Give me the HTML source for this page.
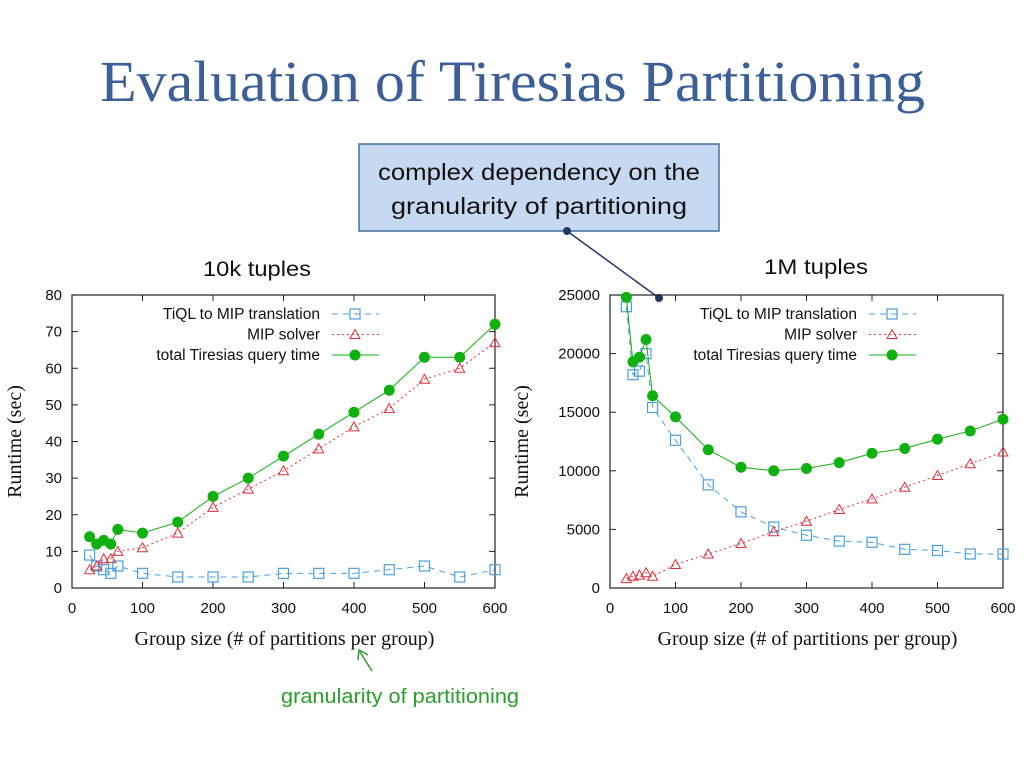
<!DOCTYPE html>
<html><head><meta charset="utf-8"><style>
body{margin:0;background:#fff;}
svg{display:block;}
text{font-family:"Liberation Sans",sans-serif;}
text.serif{font-family:"Liberation Serif",serif;}
</style></head><body>
<svg id="s" width="1024" height="768" viewBox="0 0 1024 768">
<text class="serif" x="100" y="101" font-size="58" fill="#3c5f98" textLength="825" lengthAdjust="spacingAndGlyphs">Evaluation of Tiresias Partitioning</text>
<rect x="359" y="144" width="360" height="87" fill="#c6d9f1" stroke="#41719c" stroke-width="1.5"/>
<text x="539" y="180" font-size="23" text-anchor="middle" fill="#111" textLength="322" lengthAdjust="spacingAndGlyphs">complex dependency on the</text>
<text x="539" y="214" font-size="23" text-anchor="middle" fill="#111" textLength="296" lengthAdjust="spacingAndGlyphs">granularity of partitioning</text>
<line x1="567" y1="231" x2="659" y2="298" stroke="#1f3864" stroke-width="1.5"/>
<circle cx="567" cy="231" r="4" fill="#1f3864"/>
<circle cx="659" cy="298" r="4" fill="#1f3864"/>
<text x="257" y="276" font-size="21" text-anchor="middle" fill="#111" textLength="108" lengthAdjust="spacingAndGlyphs">10k tuples</text>
<text x="816" y="274" font-size="21" text-anchor="middle" fill="#111" textLength="104" lengthAdjust="spacingAndGlyphs">1M tuples</text>
<line x1="372" y1="671" x2="360" y2="652" stroke="#2a9d2a" stroke-width="1.5"/>
<polyline points="358,660 359,650 368,655" fill="none" stroke="#2a9d2a" stroke-width="1.5"/>
<text x="400" y="703" font-size="20" text-anchor="middle" fill="#2a9d2a" textLength="238" lengthAdjust="spacingAndGlyphs">granularity of partitioning</text>
<g id="charts"></g>
</svg>
<script>
const xs = [25,35,45,55,65,100,150,200,250,300,350,400,450,500,550,600];
const xTicks = [0,100,200,300,400,500,600];
const leftYTicks = [0,10,20,30,40,50,60,70,80];
const leftTiql = [9,6,5,4,6,4,3,3,3,4,4,4,5,6,3,5];
const leftMip = [5,6,8,8,10,11,15,22,27,32,38,44,49,57,60,67];
const leftTotal = [14,12,13,12,16,15,18,25,30,36,42,48,54,63,63,72];
const rightYTicks = [0,5000,10000,15000,20000,25000];
const rightTiql = [24000,18200,18500,20000,15400,12600,8800,6500,5200,4500,4000,3900,3300,3200,2900,2900];
const rightMip = [800,1000,1100,1300,1000,2000,2900,3800,4800,5700,6700,7600,8600,9600,10600,11600];
const rightTotal = [24800,19300,19700,21200,16400,14600,11800,10300,10000,10200,10700,11500,11900,12700,13400,14400];
const legendLabels = ["TiQL to MIP translation","MIP solver","total Tiresias query time"];

const NS="http://www.w3.org/2000/svg";
const root=document.getElementById('charts');
function mk(tag,attrs,parent){const e=document.createElementNS(NS,tag);for(const k in attrs)e.setAttribute(k,attrs[k]);(parent||root).appendChild(e);return e;}

function chart(prefix,L,R,T,B,ymax,yTicks,tiql,mip,total,yLabelX,legX){
  const g=mk('g',{});
  
  
  const X=v=>L+(R-L)*v/600, Y=v=>B-(B-T)*v/ymax;
  const box=mk('rect',{x:L,y:T,width:R-L,height:B-T,fill:'none',stroke:'#222','stroke-width':1.2},g);
  
  
  xTicks.forEach(t=>{
    const x=X(t);
    mk('line',{x1:x,y1:B,x2:x,y2:B-6,stroke:'#222'},g);
    mk('line',{x1:x,y1:T,x2:x,y2:T+6,stroke:'#222'},g);
    const tx=mk('text',{x:x,y:B+25,'font-size':15,'text-anchor':'middle',fill:'#111'},g);
    tx.textContent=t;
    
    
  });
  yTicks.forEach(t=>{
    const y=Y(t);
    mk('line',{x1:L,y1:y,x2:L+6,y2:y,stroke:'#222'},g);
    mk('line',{x1:R,y1:y,x2:R-6,y2:y,stroke:'#222'},g);
    const tx=mk('text',{x:L-10,y:y+5,'font-size':15,'text-anchor':'end',fill:'#111'},g);
    tx.textContent=t;
    
    
  });
  const xt=mk('text',{class:'serif',x:(L+R)/2+1,y:B+57,'font-size':20,'text-anchor':'middle',fill:'#111'},g);
  xt.textContent='Group size (# of partitions per group)';
  
  
  const yt=mk('text',{class:'serif',x:0,y:0,'font-size':20,'text-anchor':'middle',fill:'#111',transform:`translate(${yLabelX},${(T+B)/2}) rotate(-90)`},g);
  yt.textContent='Runtime (sec)';
  
  
  const series=[
    {d:tiql,c:'#4a9fe0',dash:'6,5',m:'sq',w:1},
    {d:mip,c:'#e0303a',dash:'2,3',m:'tri',w:1},
    {d:total,c:'#10b010',dash:'',m:'dot',w:1}];
  function marker(m,x,y,c,par){
    if(m==='sq')return mk('rect',{x:x-5,y:y-5,width:10,height:10,fill:'none',stroke:c,'stroke-width':1.2},par);
    if(m==='tri')return mk('polygon',{points:`${x},${y-5} ${x-5},${y+4} ${x+5},${y+4}`,fill:'none',stroke:c,'stroke-width':1},par);
    return mk('circle',{cx:x,cy:y,r:5.5,fill:c},par);
  }
  const names=['tiql-translation','mip-solver','total-query-time'];
  series.forEach((s,i)=>{
    const sg=mk('g',{},g);
    
    
    const pts=s.d.map((v,j)=>X(xs[j])+','+Y(v)).join(' ');
    mk('polyline',{points:pts,fill:'none',stroke:s.c,'stroke-width':s.w,'stroke-dasharray':s.dash},sg);
    s.d.forEach((v,j)=>{
      const mm=marker(s.m,X(xs[j]),Y(v),s.c,sg);
      
      
    });
    const ly=T+19+i*20.5;
    const lg=mk('g',{},g);
    
    
    const lt=mk('text',{x:legX,y:ly+5,'font-size':15.5,'text-anchor':'end',fill:'#111'},lg);
    lt.textContent=legendLabels[i];
    mk('line',{x1:legX+12,y1:ly,x2:legX+59,y2:ly,stroke:s.c,'stroke-dasharray':s.dash},lg);
    marker(s.m,legX+35,ly,s.c,lg);
  });
}
chart('left',72,495,295,588,80,leftYTicks,leftTiql,leftMip,leftTotal,21,320);
chart('right',610,1003,295,588,25000,rightYTicks,rightTiql,rightMip,rightTotal,528,857);
</script>
</body></html>
